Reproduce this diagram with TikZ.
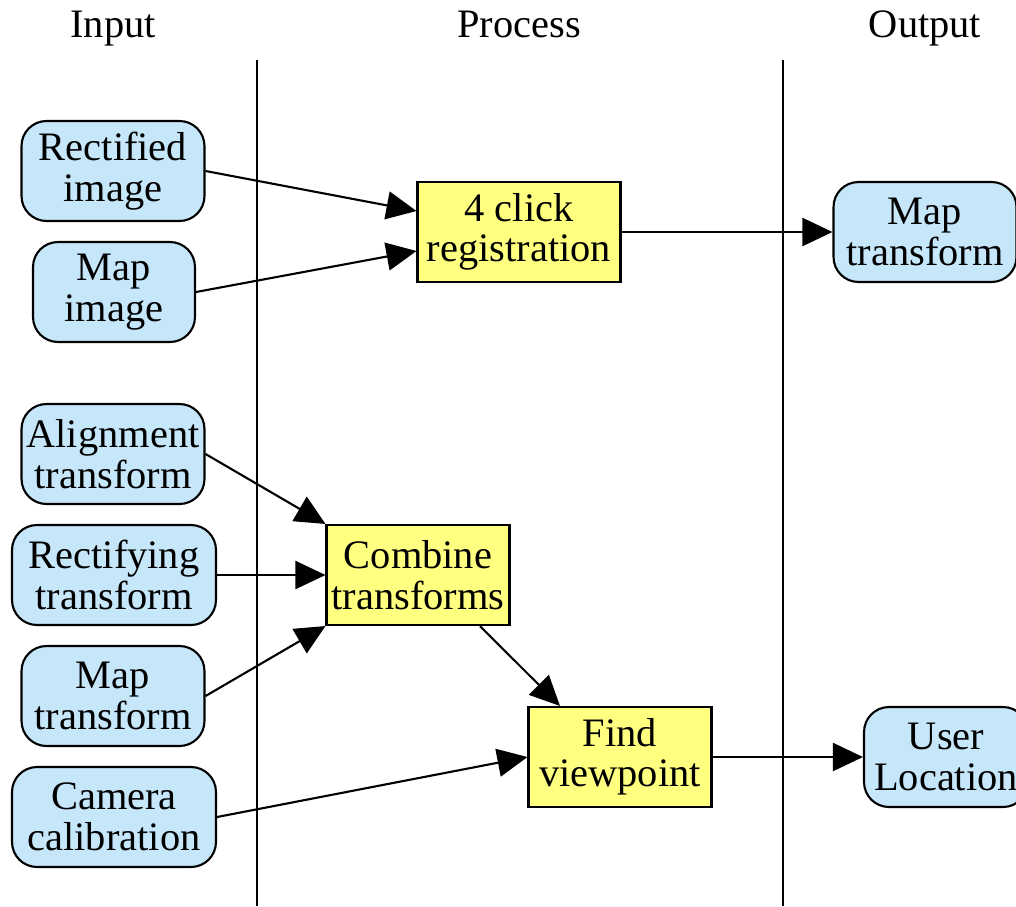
\documentclass[tikz,border=0pt]{standalone}
\usepackage{fontspec}
\setmainfont{Liberation Serif}
\usetikzlibrary{arrows.meta,calc}
\definecolor{inblue}{HTML}{C6E6FA}
\definecolor{procyellow}{HTML}{FFFF80}
\begin{document}
\begin{tikzpicture}[x=0.02cm,y=-0.02cm,
        every node/.style={font=\fontsize{23}{23}\selectfont, align=center},
        data/.style={draw, line width=1.2pt, fill=inblue, rounded corners=0.5cm,
            minimum width=3.66cm, minimum height=2cm, inner sep=0pt},
        proc/.style={draw, line width=1.2pt, fill=procyellow,
            minimum width=3.66cm, minimum height=2cm, inner sep=0pt},
        flow/.style={line width=1.2pt, -{Triangle[length=0.6cm,width=0.56cm]}}]
            \useasboundingbox (0,0) rectangle (1016,906);
            \draw[line width=1.2pt] (257,60) -- (257,906);
            \draw[line width=1.2pt] (783,60) -- (783,906);
            \node[anchor=base] (hin) at (113,37) {Input};
            \node[anchor=base] (hproc) at (519,37) {Process};
            \node[anchor=base] (hout) at (925,37) {Output};

            \node[data] (rectimg) at (113,171) {Rectified\\image};
            \node[data, minimum width=3.24cm] (mapimg) at (114,292) {Map\\image};
            \node[data] (align) at (113,454) {Alignment\\transform};
            \node[data, minimum width=4.08cm] (rectify) at (114,575) {Rectifying\\transform};
            \node[data] (mapin) at (113,696) {Map\\transform};
            \node[data, minimum width=4.08cm] (camera) at (114,817) {Camera\\calibration};

            \node[proc, minimum width=4.06cm] (reg) at (519,232) {4 click\\registration};
            \node[proc] (combine) at (418,575) {Combine\\transforms};
            \node[proc] (findvp) at (620,757) {Find\\viewpoint};

            \node[data] (mapout) at (925,232) {Map\\transform};
            \node[data, minimum width=3.28cm] (userloc) at (946,757) {User\\Location};

            \draw[flow] (rectimg.east) -- ($(reg.west)+(0,-21)$);
            \draw[flow] (mapimg.east) -- ($(reg.west)+(0,19)$);
            \draw[flow] (reg) -- (mapout);
            \draw[flow] (align.east) -- (combine.north west);
            \draw[flow] (rectify) -- (combine);
            \draw[flow] (mapin.east) -- (combine.south west);
            \draw[flow] ($(combine.south)+(62,0)$) -- ($(findvp.north)+(-60,0)$);
            \draw[flow] (camera.east) -- (findvp.west);
            \draw[flow] (findvp) -- (userloc);
\end{tikzpicture}
\end{document}
